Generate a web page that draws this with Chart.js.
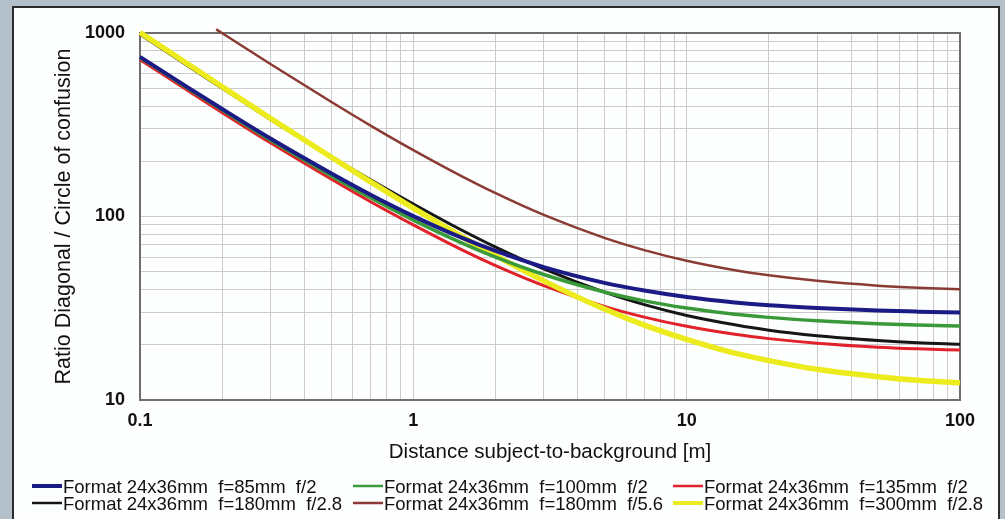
<!DOCTYPE html>
<html>
<head>
<meta charset="utf-8">
<script src="https://cdn.jsdelivr.net/npm/chart.js@4/dist/chart.umd.min.js"></script>
<style>
  html, body { margin: 0; padding: 0; }
  body { width: 1005px; height: 519px; overflow: hidden; background: #b4c0ca; position: relative; }
  #panel { position: absolute; left: 12px; top: 6px; width: 984px; height: 530px; background: #fdfefe; border: 2px solid #2b2b2b; }
  #wrap { position: absolute; left: 0; top: 0; width: 1005px; height: 519px; }
</style>
</head>
<body>
<div id="panel"></div>
<div id="wrap"><canvas id="chart" width="1005" height="519"></canvas></div>
<script>
// distance subject-to-background [m]
const distances = [0.1, 0.15, 0.2, 0.3, 0.5, 0.7, 1, 1.5, 2, 3, 5, 7, 10, 15, 20, 30, 50, 70, 100];
const distances180f56 = [0.19, 0.2, 0.3, 0.5, 0.7, 1, 1.5, 2, 3, 5, 7, 10, 15, 20, 30, 50, 70, 100];

// ratio diagonal / circle of confusion
const ratio85f2   = [741, 504, 385, 266, 172, 131, 100.5, 76.7, 64.9, 53, 43.5, 39.5, 36.4, 34, 32.8, 31.7, 30.7, 30.3, 30];
const ratio100f2  = [735, 498, 380, 261, 167, 126, 95.6, 71.9, 60.1, 48.3, 38.8, 34.7, 31.7, 29.3, 28.2, 27, 26, 25.6, 25.3];
const ratio135f2  = [715, 485, 368, 252, 160, 120, 90, 66, 54, 42, 32.4, 28.3, 25.2, 22.8, 21.6, 20.4, 19.4, 19, 18.7];
const ratio180f28 = [985, 660, 500, 338, 212, 158, 117, 84.4, 68.1, 51.8, 38.7, 33.1, 28.9, 25.7, 24, 22.4, 21.1, 20.5, 20.1];
const ratio180f56 = [1048, 997, 678, 422, 312, 230, 166, 134, 102, 76.5, 65.6, 57.4, 51, 47.8, 44.6, 42, 40.9, 40.1];
const ratio300f28 = [1007, 675, 509, 343, 211, 154, 111, 77.8, 61.2, 44.6, 31.3, 25.6, 21.4, 18, 16.4, 14.7, 13.4, 12.8, 12.4];

const seriesLabels = [
  "Format 24x36mm  f=85mm  f/2",
  "Format 24x36mm  f=100mm  f/2",
  "Format 24x36mm  f=135mm  f/2",
  "Format 24x36mm  f=180mm  f/2.8",
  "Format 24x36mm  f=180mm  f/5.6",
  "Format 24x36mm  f=300mm  f/2.8"
];

const xTickLabels = [0.1, 1, 10, 100];
const yTickLabels = [10, 100, 1000];

// log grid: 1..9 in every decade
function decadeTicks(fromExp, toExp) {
  const out = [];
  for (let e = fromExp; e < toExp; e++) {
    for (let m = 1; m < 10; m++) out.push(parseFloat(m + "e" + e));
  }
  out.push(parseFloat("1e" + toExp));
  return out;
}
const xGrid = decadeTicks(-1, 2);
const yGrid = decadeTicks(1, 3);

const FONT = "'Liberation Sans', Arial, sans-serif";

function pts(xs, ys) {
  return xs.map((x, i) => ({ x: x, y: ys[i] }));
}

function line(label, xs, ys, color, width, legendWidth, order) {
  return {
    label: label,
    data: pts(xs, ys),
    borderColor: color,
    backgroundColor: color,
    borderWidth: width,
    legendWidth: legendWidth,
    order: order,
    pointRadius: 0,
    cubicInterpolationMode: "monotone",
    fill: false,
    clip: 8
  };
}

// plot frame
const framePlugin = {
  id: "frame",
  beforeDatasetsDraw(chart) {
    const a = chart.chartArea;
    const ctx = chart.ctx;
    ctx.save();
    ctx.strokeStyle = "#6e6e6e";
    ctx.lineWidth = 2;
    ctx.strokeRect(a.left, a.top, a.right - a.left, a.bottom - a.top);
    ctx.restore();
  }
};

// three-column legend below the x title
const legendPlugin = {
  id: "gridLegend",
  afterDraw(chart) {
    const ctx = chart.ctx;
    const colX = [63, 384, 704];
    const rowY = [488, 505];
    ctx.save();
    ctx.font = "18.5px " + FONT;
    ctx.textBaseline = "middle";
    ctx.fillStyle = "#111";
    chart.data.datasets.forEach((ds, i) => {
      const x = colX[i % 3];
      const y = rowY[Math.floor(i / 3)];
      ctx.strokeStyle = ds.borderColor;
      ctx.lineWidth = ds.legendWidth;
      ctx.beginPath();
      ctx.moveTo(x - 31, y - 2);
      ctx.lineTo(x - 1, y - 2);
      ctx.stroke();
      ctx.fillText(ds.label, x, y);
    });
    ctx.restore();
  }
};

new Chart(document.getElementById("chart"), {
  type: "line",
  data: {
    datasets: [
      line(seriesLabels[0], distances, ratio85f2, "#1b1b86", 4, 4, 0),
      line(seriesLabels[1], distances, ratio100f2, "#3a9a3a", 3.5, 2.5, 1),
      line(seriesLabels[2], distances, ratio135f2, "#e2222a", 3, 2.5, 3),
      line(seriesLabels[3], distances, ratio180f28, "#161616", 3, 2.5, 4),
      line(seriesLabels[4], distances180f56, ratio180f56, "#8a3b33", 2.5, 2.5, 5),
      line(seriesLabels[5], distances, ratio300f28, "#ebeb1e", 5.5, 4, 2)
    ]
  },
  options: {
    responsive: false,
    animation: false,
    layout: { padding: { left: 0, top: 33, right: 45, bottom: 54 } },
    plugins: {
      legend: { display: false },
      tooltip: { enabled: false }
    },
    scales: {
      x: {
        type: "logarithmic",
        min: 0.1,
        max: 100,
        afterBuildTicks: (scale) => { scale.ticks = xGrid.map(v => ({ value: v })); },
        afterFit: (scale) => { scale.height = 65; },
        grid: { color: "#cbcbcb", lineWidth: 1, drawTicks: false },
        border: { display: false },
        ticks: {
          autoSkip: false,
          maxRotation: 0,
          padding: 10,
          color: "#111",
          font: { family: FONT, size: 18, weight: "bold" },
          callback: (v) => xTickLabels.includes(v) ? String(v) : ""
        },
        title: {
          display: true,
          text: "Distance subject-to-background [m]",
          color: "#111",
          font: { family: FONT, size: 20.5 },
          padding: { top: 0, bottom: 0 }
        }
      },
      y: {
        type: "logarithmic",
        min: 10,
        max: 1000,
        afterBuildTicks: (scale) => { scale.ticks = yGrid.map(v => ({ value: v })); },
        afterFit: (scale) => { scale.width = 140; },
        grid: { color: "#cbcbcb", lineWidth: 1, drawTicks: false },
        border: { display: false },
        ticks: {
          autoSkip: false,
          padding: 15,
          color: "#111",
          font: { family: FONT, size: 18, weight: "bold" },
          callback: (v) => yTickLabels.includes(v) ? String(v) : ""
        },
        title: {
          display: true,
          text: "Ratio Diagonal / Circle of confusion",
          color: "#111",
          font: { family: FONT, size: 21.5 },
          padding: { top: 51.6, bottom: 0 }
        }
      }
    }
  },
  plugins: [framePlugin, legendPlugin]
});
</script>
</body>
</html>
